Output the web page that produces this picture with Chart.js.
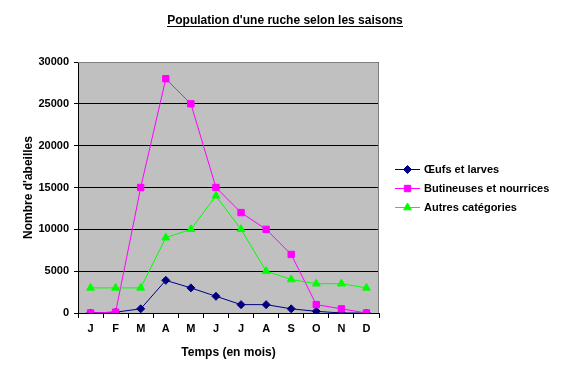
<!DOCTYPE html>
<html>
<head>
<meta charset="utf-8">
<script src="https://cdn.jsdelivr.net/npm/chart.js@4.4.0/dist/chart.umd.min.js"></script>
<style>
  html, body { margin: 0; padding: 0; background: #fff; }
  #wrap { width: 570px; height: 378px; position: relative; }
</style>
</head>
<body>
<div id="wrap"><canvas id="chart"></canvas></div>
<script>
// Data
var months = ['J', 'F', 'M', 'A', 'M', 'J', 'J', 'A', 'S', 'O', 'N', 'D'];
var oeufs = [0, 100, 500, 3900, 3000, 2000, 1000, 1000, 500, 200, 0, 0];
var butineuses = [0, 100, 15000, 28000, 25000, 15000, 12000, 10000, 7000, 1000, 500, 0];
var autres = [3000, 3000, 3000, 9000, 10000, 14000, 10000, 5000, 4000, 3500, 3500, 3000];
var seriesNames = ['Œufs et larves', 'Butineuses et nourrices', 'Autres catégories'];

var FONT = 'Arial, "Liberation Sans", sans-serif';

// Grey plot area, title, legend
var decor = {
  id: 'decor',
  beforeDraw: function(chart) {
    var a = chart.chartArea, c = chart.ctx;
    c.save();
    c.fillStyle = '#c0c0c0';
    c.fillRect(a.left, a.top, a.right - a.left, a.bottom - a.top);
    c.restore();
  },
  beforeDatasetsDraw: function(chart) {
    var a = chart.chartArea, c = chart.ctx;
    c.save();
    c.strokeStyle = '#808080';
    c.lineWidth = 1;
    c.beginPath();
    c.moveTo(a.left, a.top + 0.5);
    c.lineTo(a.right - 0.5, a.top + 0.5);
    c.lineTo(a.right - 0.5, a.bottom);
    c.stroke();
    c.restore();
  },
  afterDraw: function(chart) {
    var c = chart.ctx;
    c.save();
    // title
    var t = "Population d'une ruche selon les saisons";
    c.font = 'bold 12px ' + FONT;
    c.fillStyle = '#000';
    c.textAlign = 'center';
    c.textBaseline = 'alphabetic';
    c.fillText(t, 285, 24);
    var w = c.measureText(t).width;
    c.fillRect(Math.round(285 - w / 2), 26, Math.round(w), 1);

    // legend
    c.font = 'bold 11px ' + FONT;
    c.textAlign = 'left';
    c.textBaseline = 'middle';
    var ys = [169, 188, 207];
    chart.data.datasets.forEach(function(ds, i) {
      var y = ys[i] + 0.5;
      c.strokeStyle = ds.borderColor;
      c.lineWidth = 1;
      c.beginPath();
      c.moveTo(395, y);
      c.lineTo(420, y);
      c.stroke();
      c.fillStyle = ds.borderColor;
      Chart.helpers.drawPoint(c, { pointStyle: ds.pointStyle, radius: ds.pointRadius, borderWidth: 1 }, 407.5, y);
      c.fillStyle = '#000';
      c.fillText(ds.label, 424, ys[i] + 1);
    });
    c.restore();
  }
};

new Chart(document.getElementById('chart'), {
  type: 'line',
  data: {
    labels: months,
    datasets: [
      // later series drawn on top, as in the original
      { label: seriesNames[0], data: oeufs, order: 3, borderColor: '#000080', pointStyle: 'rectRot', pointRadius: 4 },
      { label: seriesNames[1], data: butineuses, order: 2, borderColor: '#ff00ff', pointStyle: 'rect', pointRadius: 4.5 },
      { label: seriesNames[2], data: autres, order: 1, borderColor: '#00ff00', pointStyle: 'triangle', pointRadius: 4.5 }
    ].map(function(d) {
      d.backgroundColor = d.borderColor;
      d.borderWidth = 1;
      d.pointBorderWidth = 1;
      d.pointBackgroundColor = d.borderColor;
      d.pointBorderColor = d.borderColor;
      d.tension = 0;
      return d;
    })
  },
  options: {
    responsive: true,
    maintainAspectRatio: false,
    animation: false,
    layout: { padding: { top: 62, right: 191, left: 0, bottom: 0 } },
    plugins: { legend: { display: false }, title: { display: false }, tooltip: { enabled: false } },
    scales: {
      x: {
        offset: true,
        afterFit: function(s) { s.height = 65; },
        grid: { drawOnChartArea: false, drawTicks: true, tickLength: 5, color: '#000', offset: true },
        border: { color: '#000', width: 1 },
        ticks: { color: '#000', padding: 4, font: { family: FONT, size: 11, weight: 'bold' }, maxRotation: 0, autoSkip: false },
        title: { display: true, text: 'Temps (en mois)', color: '#000', font: { family: FONT, size: 12, weight: 'bold' }, padding: { top: 0, bottom: 18 } }
      },
      y: {
        min: 0,
        max: 30000,
        afterFit: function(s) { s.width = 78; },
        grid: { color: '#000', tickLength: 4, drawTicks: true },
        border: { color: '#000', width: 1 },
        ticks: { stepSize: 5000, color: '#000', padding: 5, font: { family: FONT, size: 11, weight: 'bold' }, callback: function(v) { return String(v); } },
        title: { display: true, text: "Nombre d'abeilles", color: '#000', font: { family: FONT, size: 12, weight: 'bold' }, padding: { top: 21, bottom: 0 } }
      }
    }
  },
  plugins: [decor]
});
</script>
</body>
</html>
